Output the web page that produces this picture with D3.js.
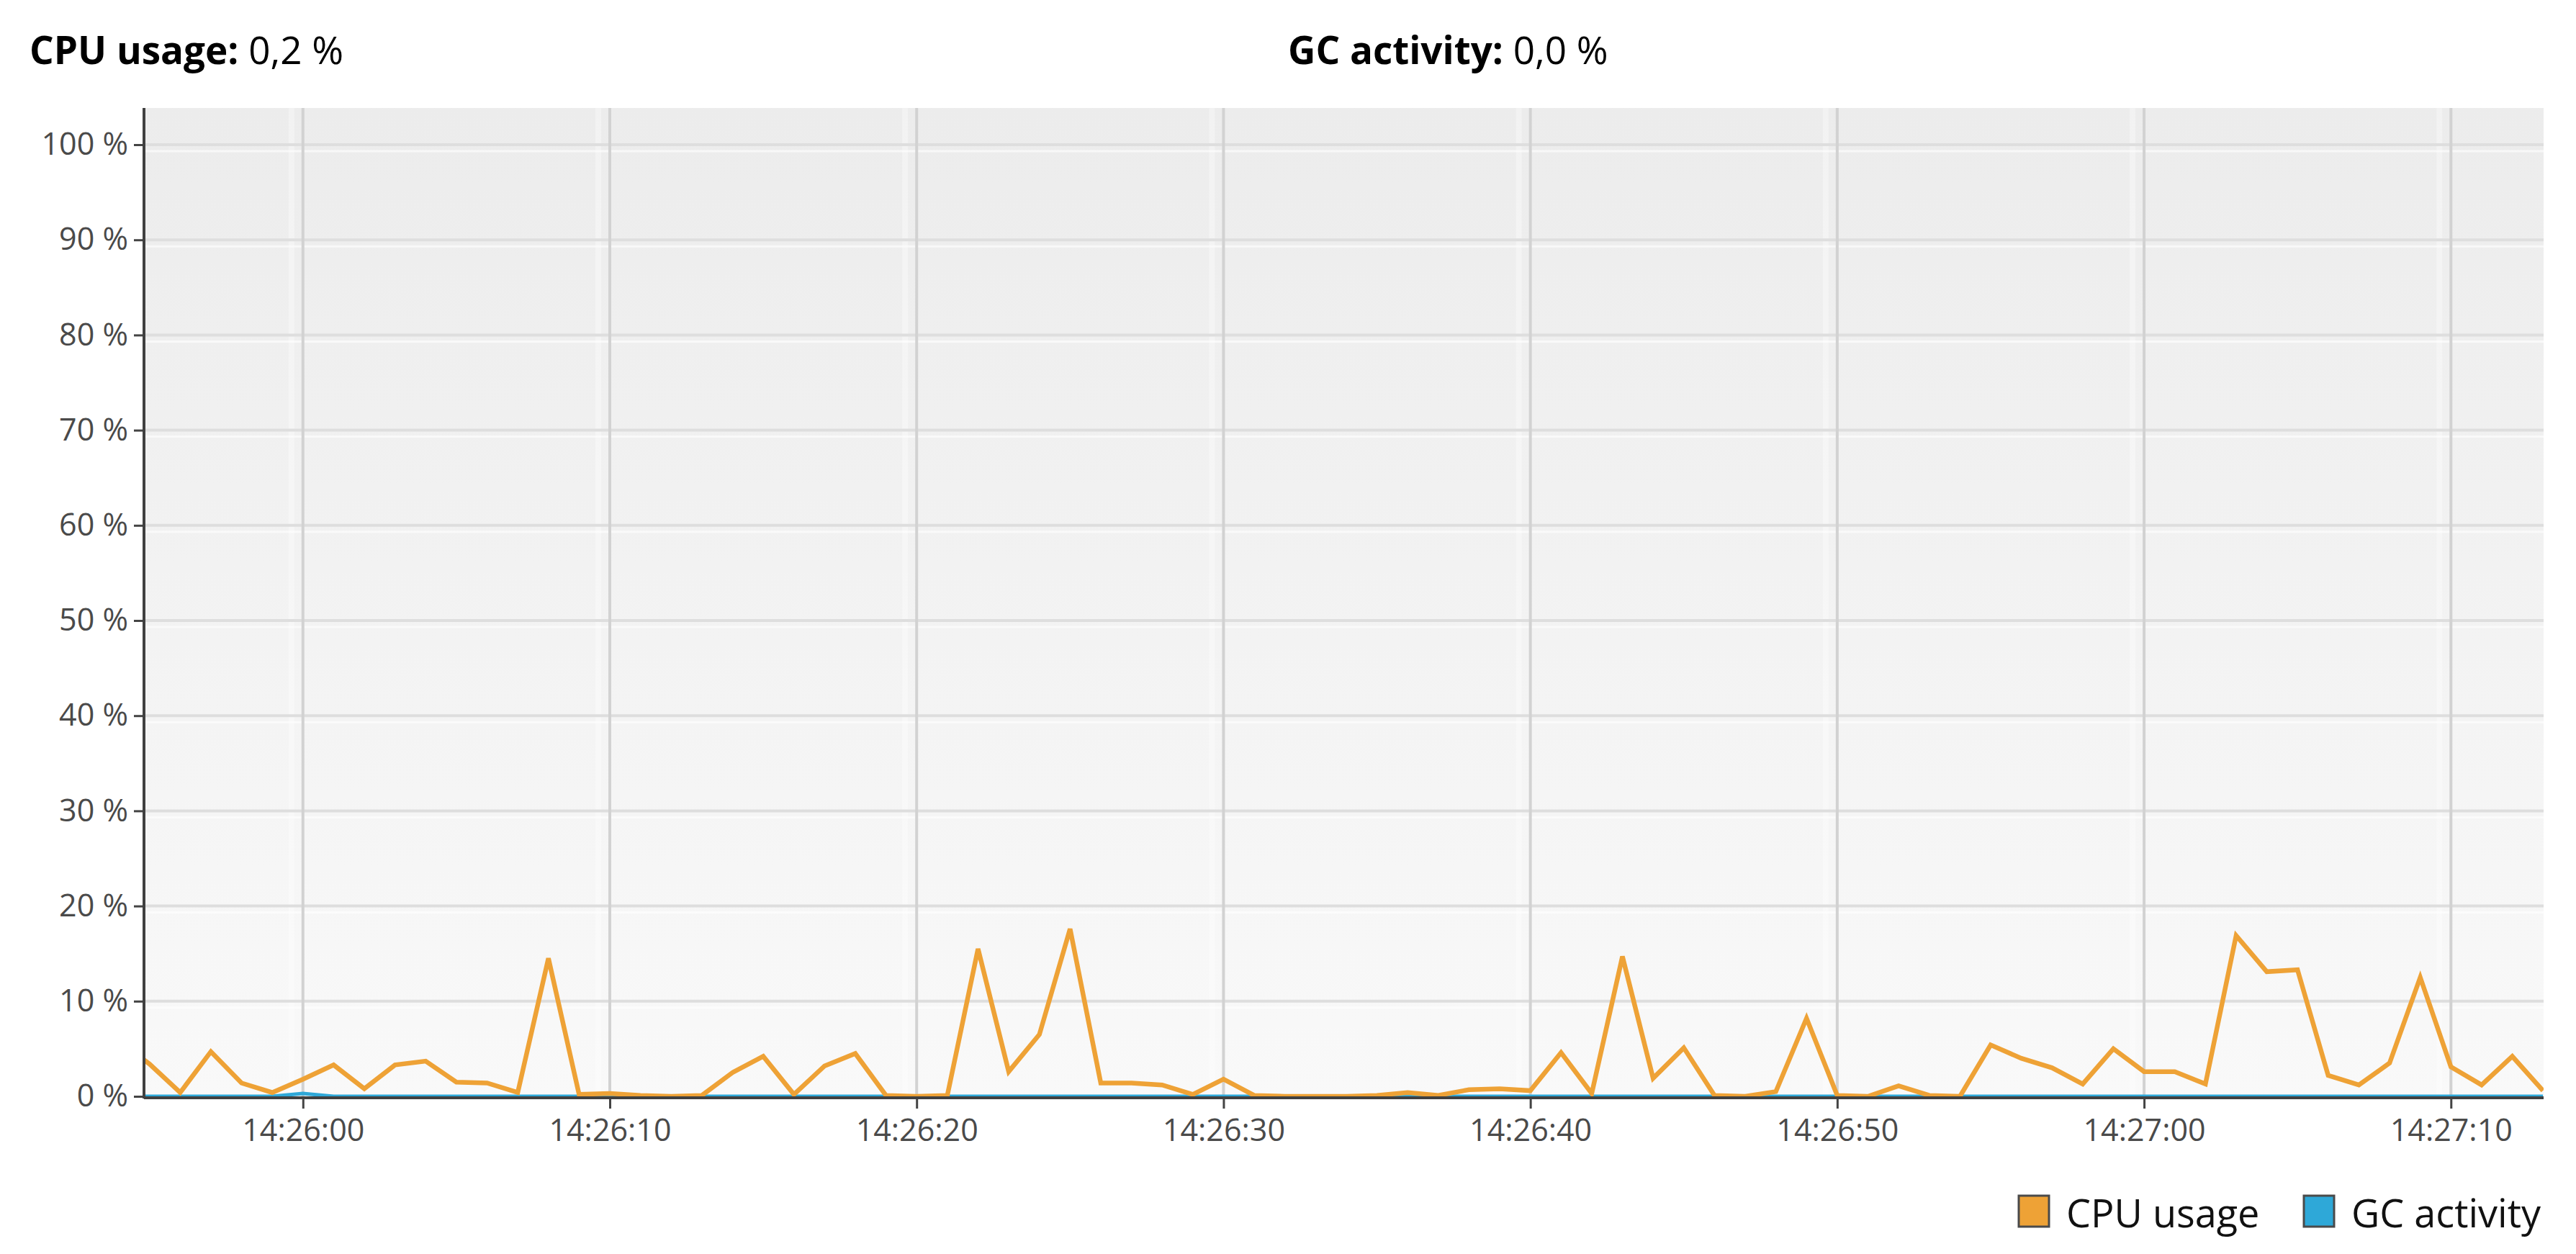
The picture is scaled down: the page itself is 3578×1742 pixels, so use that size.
<!DOCTYPE html>
<html>
<head>
<meta charset="utf-8">
<script src="https://cdn.jsdelivr.net/npm/d3@7"></script>
<style>
  body { margin: 0; background: #fff; }
  text { font-family: "Open Sans", "Noto Sans", sans-serif; }
</style>
</head>
<body>
<div class="wrapper"></div>
<script>
// samples, one per second starting at 14:25:54
const startTime = "14:25:54";
const cpuUsage = [
  5.8, 3.4, 0.4, 4.7, 1.4, 0.4, 1.8, 3.3, 0.8, 3.3,
  3.7, 1.5, 1.4, 0.4, 14.5, 0.2, 0.3, 0.1, 0, 0.1,
  2.5, 4.2, 0.2, 3.2, 4.5, 0.1, 0, 0.1, 15.5, 2.6,
  6.5, 17.6, 1.4, 1.4, 1.2, 0.2, 1.8, 0.1, 0, 0,
  0, 0.1, 0.4, 0.1, 0.7, 0.8, 0.6, 4.6, 0.3, 14.7,
  1.9, 5.1, 0.1, 0, 0.5, 8.2, 0.1, 0, 1.1, 0.1,
  0, 5.4, 4.0, 3.0, 1.3, 5.0, 2.6, 2.6, 1.3, 16.9,
  13.1, 13.3, 2.2, 1.2, 3.5, 12.5, 3.1, 1.2, 4.2, 0.6
];
const gcActivity = [
  0, 0, 0, 0, 0, 0, 0.3, 0, 0, 0,
  0, 0, 0, 0, 0, 0, 0, 0, 0, 0,
  0, 0, 0, 0, 0, 0, 0, 0, 0, 0,
  0, 0, 0, 0, 0, 0, 0, 0, 0, 0,
  0, 0, 0, 0, 0, 0, 0, 0, 0, 0,
  0, 0, 0, 0, 0, 0, 0, 0, 0, 0,
  0, 0, 0, 0, 0, 0, 0, 0, 0, 0,
  0, 0, 0, 0, 0, 0, 0, 0, 0, 0
];
const yTicks = [0, 10, 20, 30, 40, 50, 60, 70, 80, 90, 100];
const viewStart = "14:25:54.820";
const viewEnd = "14:27:13.020";
const seriesNames = ["CPU usage", "GC activity"];
const seriesColors = ["#eea236", "#2ea8d8"];
const headerValues = ["0,2 %", "0,0 %"];

const W = 3578, H = 1742;
const plot = { left: 200, right: 3533, top: 150, bottom: 1523 };

const parseT = d3.timeParse("%H:%M:%S");
const parseMs = d3.timeParse("%H:%M:%S.%L");
const t0 = parseT(startTime);
const times = cpuUsage.map((d, i) => d3.timeSecond.offset(t0, i));

const svg = d3.select(".wrapper")
  .append("svg")
  .attr("width", W)
  .attr("height", H);

const x = d3.scaleTime()
  .domain([parseMs(viewStart), parseMs(viewEnd)])
  .range([plot.left, plot.right]);

const y = d3.scaleLinear()
  .domain([0, 100])
  .range([plot.bottom, 201]);

// background gradient
const defs = svg.append("defs");
const grad = defs.append("linearGradient")
  .attr("id", "bg")
  .attr("x1", 0).attr("y1", 0).attr("x2", 0).attr("y2", 1);
grad.append("stop").attr("offset", "0%").attr("stop-color", "#ececec");
grad.append("stop").attr("offset", "100%").attr("stop-color", "#f9f9f9");

defs.append("clipPath")
  .attr("id", "clip")
  .append("rect")
  .attr("x", plot.left)
  .attr("y", plot.top)
  .attr("width", plot.right - plot.left)
  .attr("height", plot.bottom - plot.top);

svg.append("rect")
  .attr("x", plot.left)
  .attr("y", plot.top)
  .attr("width", plot.right - plot.left)
  .attr("height", plot.bottom - plot.top)
  .style("fill", "url(#bg)");

// grid
const xTicks = x.ticks(d3.timeSecond.every(10));

svg.append("g")
  .selectAll("line")
  .data(yTicks.slice(1))
  .enter()
  .append("line")
  .attr("x1", plot.left)
  .attr("x2", plot.right)
  .attr("y1", d => y(d) + 9)
  .attr("y2", d => y(d) + 9)
  .attr("stroke", "#ffffff")
  .attr("stroke-opacity", 0.6)
  .attr("stroke-width", 3);

svg.append("g")
  .selectAll("line")
  .data(xTicks)
  .enter()
  .append("line")
  .attr("x1", d => x(d) - 16)
  .attr("x2", d => x(d) - 16)
  .attr("y1", plot.top)
  .attr("y2", plot.bottom)
  .attr("stroke", "#ffffff")
  .attr("stroke-opacity", 0.35)
  .attr("stroke-width", 8);

svg.append("g")
  .selectAll("line")
  .data(yTicks.slice(1))
  .enter()
  .append("line")
  .attr("x1", plot.left)
  .attr("x2", plot.right)
  .attr("y1", d => y(d))
  .attr("y2", d => y(d))
  .attr("stroke", "#dedede")
  .attr("stroke-width", 4);

svg.append("g")
  .selectAll("line")
  .data(xTicks)
  .enter()
  .append("line")
  .attr("x1", d => x(d))
  .attr("x2", d => x(d))
  .attr("y1", plot.top)
  .attr("y2", plot.bottom)
  .attr("stroke", "#d2d2d2")
  .attr("stroke-width", 4);

// series
const line = d3.line()
  .x((d, i) => x(times[i]))
  .y(d => y(d));

const lines = svg.append("g").attr("clip-path", "url(#clip)");

lines.append("path")
  .datum(gcActivity)
  .attr("d", line)
  .attr("fill", "none")
  .attr("stroke", seriesColors[1])
  .attr("stroke-width", 5);

lines.append("path")
  .datum(cpuUsage)
  .attr("d", line)
  .attr("fill", "none")
  .attr("stroke", seriesColors[0])
  .attr("stroke-width", 6.5)
  .attr("stroke-linejoin", "miter");

// axes
const yAxis = svg.append("g")
  .attr("transform", `translate(${plot.left},0)`)
  .call(d3.axisLeft(y).tickValues(yTicks).tickSize(14).tickPadding(8).tickFormat(d => d + " %"));
yAxis.select(".domain").remove();
yAxis.selectAll(".tick line").attr("stroke", "#444").attr("stroke-width", 3);
yAxis.selectAll(".tick text")
  .attr("fill", "#4a4a4a")
  .style("font-size", "43px");

const xAxis = svg.append("g")
  .attr("transform", `translate(0,${plot.bottom})`)
  .call(d3.axisBottom(x).tickValues(xTicks).tickSize(17).tickPadding(14).tickFormat(d3.timeFormat("%H:%M:%S")));
xAxis.select(".domain").remove();
xAxis.selectAll(".tick line").attr("stroke", "#444").attr("stroke-width", 3);
xAxis.selectAll(".tick text")
  .attr("fill", "#4a4a4a")
  .style("font-size", "43px");

svg.append("line")
  .attr("x1", plot.left)
  .attr("x2", plot.left)
  .attr("y1", plot.top)
  .attr("y2", plot.bottom + 3)
  .attr("stroke", "#404040")
  .attr("stroke-width", 4);

svg.append("line")
  .attr("x1", plot.left)
  .attr("x2", plot.right)
  .attr("y1", plot.bottom + 2)
  .attr("y2", plot.bottom + 2)
  .attr("stroke", "#404040")
  .attr("stroke-width", 4);

// header
const headerX = [41, 1789];
seriesNames.forEach((name, i) => {
  const t = svg.append("text")
    .attr("x", headerX[i])
    .attr("y", 89)
    .style("font-size", "53px")
    .attr("fill", "#000");
  t.append("tspan").style("font-weight", "bold").text(name + ":");
  t.append("tspan").text(" " + headerValues[i]);
});

// legend
const legendX = [2804, 3200];
seriesNames.forEach((name, i) => {
  svg.append("rect")
    .attr("x", legendX[i])
    .attr("y", 1661)
    .attr("width", 42)
    .attr("height", 43)
    .attr("fill", seriesColors[i])
    .attr("stroke", "#4a4a4a")
    .attr("stroke-width", 3);
  svg.append("text")
    .attr("x", legendX[i] + 66)
    .attr("y", 1705)
    .style("font-size", "54px")
    .attr("fill", "#111")
    .text(name);
});
</script>
</body>
</html>
